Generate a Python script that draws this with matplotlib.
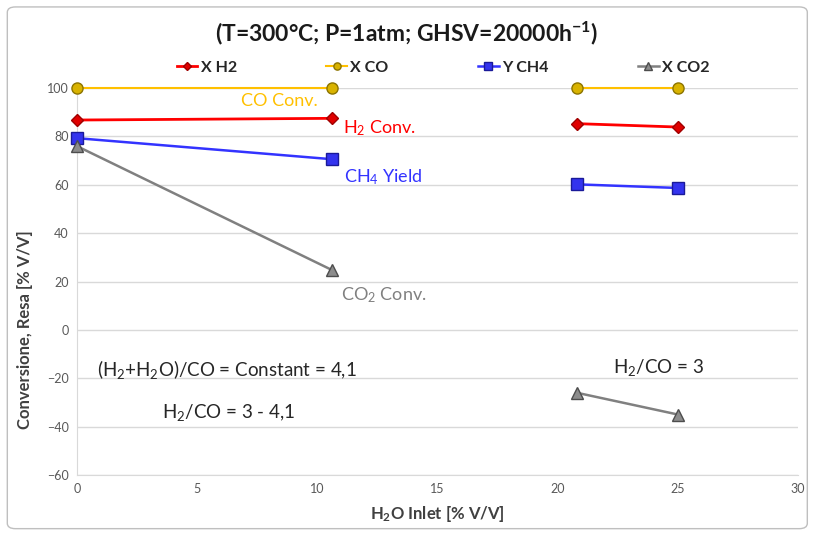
import numpy as np
import matplotlib
matplotlib.use("Agg")
import matplotlib.pyplot as plt
from matplotlib.patches import FancyBboxPatch

plt.rcParams['font.family'] = ['Lato', 'DejaVu Sans']
plt.rcParams['mathtext.fontset'] = 'custom'
plt.rcParams['mathtext.rm'] = 'Lato'
plt.rcParams['mathtext.it'] = 'Lato:italic'
plt.rcParams['mathtext.bf'] = 'Lato:bold'

h2o = [0, 10.6, np.nan, 20.8, 25]
x_h2 = [86.8, 87.5, np.nan, 85.3, 83.9]
x_co = [100, 100, np.nan, 100, 100]
y_ch4 = [79.3, 70.6, np.nan, 60.2, 58.7]
x_co2 = [76.0, 24.8, np.nan, -26.0, -35.0]

fig = plt.figure(figsize=(8.13, 5.34), dpi=100)
ax = fig.add_axes([0.0947, 0.1105, 0.887, 0.7245])

ax.plot(h2o, x_co, color='#FFC000', lw=1.5, marker='o', ms=8, mfc='#D9B300', mec='#8C7400', mew=1, label='X CO', clip_on=False, zorder=3)
ax.plot(h2o, x_h2, color='#FF0000', lw=2, marker='D', ms=6, mfc='#E00000', mec='#A00000', mew=1, label='X H2', clip_on=False, zorder=4)
ax.plot(h2o, y_ch4, color='#3333FF', lw=1.8, marker='s', ms=8, mfc='#3333EE', mec='#1A1A99', mew=1, label='Y CH4', clip_on=False, zorder=4)
ax.plot(h2o, x_co2, color='#808080', lw=1.8, marker='^', ms=8, mfc='#8C8C8C', mec='#4D4D4D', mew=1, label='X CO2', clip_on=False, zorder=4)

ax.set_xlim(0, 30)
ax.set_ylim(-60, 100)
ax.set_xticks(np.arange(0, 31, 5))
ax.set_yticks(np.arange(-60, 101, 20))
ax.grid(axis='y', color='#D9D9D9', lw=1)
ax.set_axisbelow(True)
for s in ['top', 'right']:
    ax.spines[s].set_visible(False)
ax.spines['left'].set_color('#D9D9D9')
ax.spines['bottom'].set_color('#D9D9D9')
ax.tick_params(length=0, labelsize=9, colors='#595959', pad=6)

ax.set_xlabel('H$_\\mathbf{2}$O Inlet [% V/V]', fontsize=12, fontweight='bold', color='#404040', labelpad=6)
ax.set_ylabel('Conversione, Resa [% V/V]', fontsize=12, fontweight='bold', color='#404040')
ax.yaxis.set_label_coords(-0.061, 0.375)

fig.text(0.5, 0.938, '(T=300°C; P=1atm; GHSV=20000h$^\\mathbf{-1}$)', ha='center', va='center', fontsize=16.5, fontweight='bold', color='#1a1a1a')

handles, labels = ax.get_legend_handles_labels()
order = [1, 0, 2, 3]
leg = fig.legend([handles[i] for i in order], [labels[i] for i in order], loc='center', bbox_to_anchor=(0.545, 0.873), ncol=4, frameon=False,
                 fontsize=11.5, handlelength=1.3, handletextpad=0.2, columnspacing=5.6, markerscale=0.65)
for t in leg.get_texts():
    t.set_fontweight('bold')
    t.set_color('#262626')

ax.text(8.4, 94.6, 'CO Conv.', color='#FFC000', fontsize=13, ha='center', va='center')
ax.text(11.05, 83.3, 'H$_2$ Conv.', color='#FF0000', fontsize=13, ha='left', va='center')
ax.text(11.1, 63.2, 'CH$_4$ Yield', color='#3333FF', fontsize=13, ha='left', va='center')
ax.text(11.0, 14.5, 'CO$_2$ Conv.', color='#808080', fontsize=13, ha='left', va='center')
ax.text(0.85, -16.5, '(H$_2$+H$_2$O)/CO = Constant = 4,1', color='#262626', fontsize=13.5, ha='left', va='center')
ax.text(3.55, -34, 'H$_2$/CO = 3 - 4,1', color='#262626', fontsize=13.5, ha='left', va='center')
ax.text(22.3, -15.5, 'H$_2$/CO = 3', color='#262626', fontsize=13.5, ha='left', va='center')

border = FancyBboxPatch((0.009, 0.01), 0.984, 0.977, boxstyle='round,pad=0,rounding_size=0.01',
                        transform=fig.transFigure, fill=False, edgecolor='#BFBFBF', lw=1)
fig.patches.append(border)

fig.savefig('out.png', dpi=100)
